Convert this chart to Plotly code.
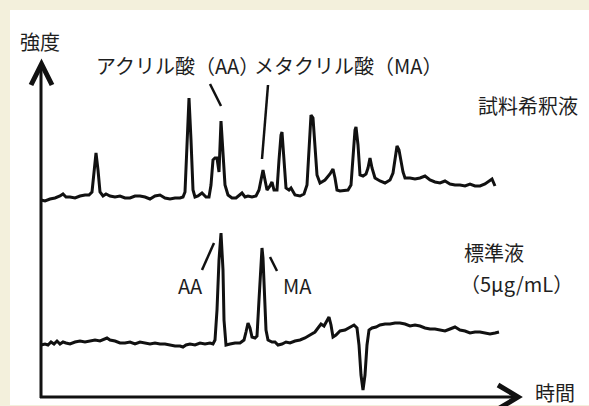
import plotly.graph_objects as go

# Sample (試料希釈液) chromatogram: retention time (px-scale units) and intensity
sample_time = [41, 45, 50, 55, 60, 63, 66, 70, 75, 80, 85, 89, 92, 94, 96, 98, 100, 103, 106, 110,
               115, 120, 125, 130, 135, 140, 145, 150, 155, 160, 165, 170, 175, 180, 183, 185, 187, 189, 191, 193,
               195, 198, 202, 206, 209, 211, 213, 215, 217, 219, 221, 223, 225, 228, 232, 236, 240, 242, 245, 248,
               252, 256, 259, 261, 263, 265, 267, 270, 272, 274, 277, 279, 281, 282, 284, 286, 289, 291, 295, 300,
               304, 307, 309, 311, 313, 315, 317, 320, 325, 330, 333, 335, 337, 340, 345, 348, 351, 353, 355, 356,
               358, 360, 363, 366, 368, 370, 372, 375, 380, 385, 390, 393, 395, 397, 399, 401, 403, 405, 410, 415,
               420, 425, 430, 435, 440, 445, 450, 455, 460, 465, 470, 475, 480, 485, 490, 492, 495]
sample_int = [206, 205, 207, 208, 210, 212, 209, 209, 208, 210, 211, 211, 214, 236, 253, 236, 214, 210, 212, 210,
              209, 210, 208, 208, 210, 210, 209, 207, 210, 211, 208, 207, 208, 208, 209, 214, 266, 308, 266, 216,
              209, 210, 213, 209, 209, 221, 246, 248, 248, 234, 285, 246, 221, 211, 208, 208, 212, 213, 209, 210,
              209, 210, 216, 226, 236, 226, 216, 220, 224, 216, 216, 246, 271, 274, 246, 218, 216, 218, 211, 210,
              212, 221, 256, 291, 288, 256, 231, 223, 226, 232, 237, 228, 216, 215, 216, 216, 221, 246, 276, 279,
              261, 231, 230, 232, 238, 248, 238, 228, 225, 223, 226, 233, 246, 260, 256, 244, 234, 228, 228, 227,
              228, 230, 226, 224, 223, 225, 222, 221, 221, 220, 222, 220, 220, 222, 226, 227, 220]

# Standard (標準液 5µg/mL) chromatogram
std_time = [41, 45, 48, 51, 54, 57, 60, 63, 66, 70, 75, 80, 85, 90, 95, 100, 105, 107, 110, 115,
            120, 125, 130, 135, 140, 145, 150, 155, 160, 165, 170, 175, 180, 183, 186, 190, 195, 200, 205, 210,
            213, 215, 217, 219, 221, 223, 224, 226, 230, 235, 240, 244, 246, 248, 250, 252, 255, 257, 259, 261,
            262, 263, 265, 266, 268, 272, 275, 278, 282, 286, 290, 295, 300, 305, 310, 315, 318, 321, 324, 326,
            329, 331, 333, 336, 340, 345, 350, 354, 357, 359, 361, 363, 365, 367, 369, 372, 376, 380, 385, 390,
            395, 400, 405, 410, 415, 420, 425, 430, 435, 440, 445, 450, 455, 460, 465, 470, 475, 480, 485, 490,
            495, 499]
std_int = [61, 62, 61, 64, 62, 65, 62, 64, 63, 62, 64, 65, 64, 65, 66, 65, 67, 68, 66, 65,
           63, 63, 64, 62, 64, 63, 62, 63, 62, 62, 61, 60, 60, 59, 61, 62, 61, 63, 62, 63,
           62, 66, 96, 146, 173, 136, 86, 61, 62, 63, 63, 66, 74, 83, 78, 69, 68, 70, 106, 146,
           158, 148, 106, 76, 66, 64, 64, 61, 62, 64, 63, 65, 66, 68, 71, 74, 78, 82, 80, 84,
           89, 81, 69, 71, 75, 76, 79, 81, 78, 61, 31, 16, 31, 61, 76, 78, 79, 81, 82, 82,
           83, 83, 82, 80, 81, 80, 78, 77, 77, 76, 75, 77, 79, 76, 75, 73, 74, 74, 73, 72,
           73, 74]

FONT = "Noto Sans CJK JP, Noto Sans, sans-serif"
INK = "#111111"
TXT = "#1e1e1e"

fig = go.Figure()
fig.add_trace(go.Scatter(x=sample_time, y=sample_int, mode="lines",
                         line=dict(color=INK, width=3), hoverinfo="skip", showlegend=False))
fig.add_trace(go.Scatter(x=std_time, y=std_int, mode="lines",
                         line=dict(color=INK, width=3), hoverinfo="skip", showlegend=False))

shapes = [
    # white panel on beige page
    dict(type="rect", xref="x", yref="y", x0=10, x1=589, y0=1, y1=396,
         fillcolor="white", line=dict(width=0), layer="below"),
    # y axis + arrow head
    dict(type="line", xref="x", yref="y", x0=41, y0=8, x1=41, y1=341, line=dict(color=INK, width=3)),
    dict(type="path", xref="x", yref="y", path="M 31,321 L 41.5,342 L 52,321",
         line=dict(color=INK, width=5)),
    # x axis + arrow head
    dict(type="line", xref="x", yref="y", x0=40, y0=9, x1=517, y1=9, line=dict(color=INK, width=3)),
    dict(type="path", xref="x", yref="y", path="M 498,21 L 518,9 L 498,-3",
         line=dict(color=INK, width=5)),
    # leader lines
    dict(type="line", xref="x", yref="y", x0=210, y0=322, x1=221, y1=300, line=dict(color=INK, width=2.5)),
    dict(type="line", xref="x", yref="y", x0=268, y0=321, x1=262, y1=247, line=dict(color=INK, width=2.5)),
    dict(type="line", xref="x", yref="y", x0=214, y0=163, x1=202, y1=136, line=dict(color=INK, width=2.5)),
    dict(type="line", xref="x", yref="y", x0=270, y0=149, x1=277, y1=135, line=dict(color=INK, width=2.5)),
]

def txt(s, x, y, anchor="center", size=20):
    return dict(text=s, x=x, y=y, xref="x", yref="y", showarrow=False, xanchor=anchor, yanchor="middle",
                font=dict(family=FONT, size=size, color=TXT))

annotations = [
    txt("強度", 40, 365),
    txt("アクリル酸（AA）", 177, 341),
    txt("メタクリル酸（MA）", 348, 341),
    txt("試料希釈液", 528, 301),
    txt("標準液", 462, 154, anchor="left"),
    txt("（5μg/mL）", 458, 123, anchor="left"),
    txt("AA", 190, 121),
    txt("MA", 297, 121),
    txt("時間", 555, 14),
]

fig.update_layout(
    width=589, height=406, margin=dict(l=0, r=0, t=0, b=0),
    paper_bgcolor="#F3F0DC", plot_bgcolor="rgba(0,0,0,0)",
    xaxis=dict(range=[0, 589], visible=False, fixedrange=True),
    yaxis=dict(range=[0, 406], visible=False, fixedrange=True),
    shapes=shapes, annotations=annotations, showlegend=False,
)
fig.write_html("out.html", config={"displayModeBar": False},
               post_script="document.body.style.margin='0';document.body.style.overflow='hidden';")
